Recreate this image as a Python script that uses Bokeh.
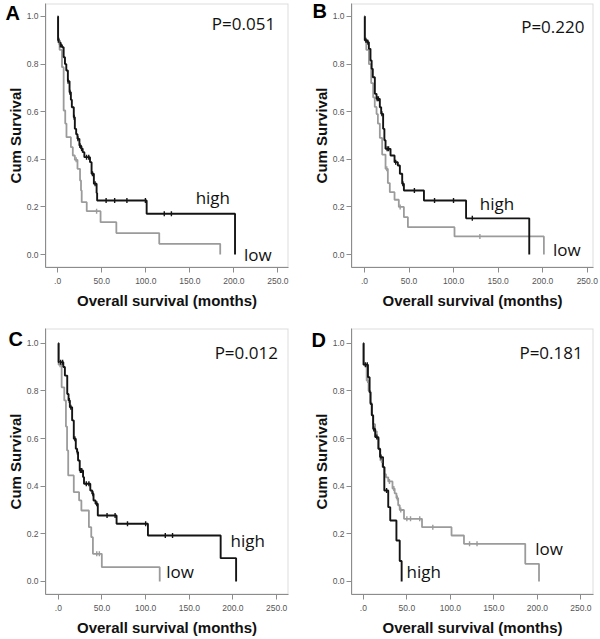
import math
from bokeh.plotting import figure
from bokeh.layouts import gridplot
from bokeh.models import FixedTicker, Label, Range1d, BoxAnnotation, Title
from bokeh.embed import file_html
from bokeh.resources import INLINE

# ---------------- axis ticks ----------------
x_ticks = [0, 50, 100, 150, 200, 250]
x_tick_labels = [".0", "50.0", "100.0", "150.0", "200.0", "250.0"]
y_ticks = [0.0, 0.2, 0.4, 0.6, 0.8, 1.0]
y_tick_labels = ["0.0", "0.2", "0.4", "0.6", "0.8", "1.0"]

x_label = "Overall survival (months)"
y_label = "Cum Survival"

panel_letters = ["A", "B", "C", "D"]
p_values = ["P=0.051", "P=0.220", "P=0.012", "P=0.181"]
group_names = ["high", "low"]

# ---------------- Panel A ----------------
a_high_t = [0, 0.5, 2.0, 3.5, 4.9, 6.8, 8.3, 9.8, 11.6, 13.5, 15.0, 16.1, 18.3, 19.5, 21.0, 22.5, 24.7, 26.5,
            28.4, 30.3, 36.7, 38.5, 41.1, 44.2, 44.8, 101.0, 201.3]
a_high_s = [1.0, 0.90, 0.89, 0.88, 0.871, 0.829, 0.80, 0.773, 0.728, 0.682, 0.65, 0.619, 0.577, 0.528, 0.505,
            0.486, 0.458, 0.445, 0.43, 0.409, 0.388, 0.339, 0.297, 0.258, 0.227, 0.171, 0.0]
a_high_cens_t = [1.2, 3.0, 11.8, 13.9, 18.7, 23.0, 25.2, 27.2, 32.8, 35.3, 39.5, 42.5, 55.0, 64.7, 78.6, 99.6,
                 121.0, 129.1]
a_high_cens_s = [0.90, 0.88, 0.728, 0.682, 0.577, 0.486, 0.458, 0.445, 0.409, 0.409, 0.339, 0.297, 0.227, 0.227,
                 0.227, 0.227, 0.171, 0.171]
a_low_t = [0, 0.3, 2.2, 4.9, 6.8, 8.6, 10.0, 15.0, 17.2, 19.5, 22.5, 25.4, 26.5, 27.3, 33.0, 48.7, 66.6, 115.3, 184.5]
a_low_s = [1.0, 0.892, 0.86, 0.787, 0.605, 0.55, 0.493, 0.451, 0.416, 0.398, 0.36, 0.311, 0.269, 0.22, 0.182,
           0.136, 0.09, 0.045, 0.0]
a_low_cens_t = [1.5, 21.0, 44.2]
a_low_cens_s = [0.892, 0.398, 0.182]

# ---------------- Panel B ----------------
b_high_t = [0, 0.3, 3.0, 4.9, 6.7, 8.0, 9.3, 11.6, 13.5, 17.2, 18.7, 20.9, 22.3, 23.6, 29.2, 33.7, 37.4, 39.7,
            42.3, 44.2, 66.7, 114.0, 184.9]
b_high_s = [1.0, 0.90, 0.892, 0.864, 0.815, 0.78, 0.745, 0.675, 0.654, 0.619, 0.591, 0.528, 0.48, 0.444, 0.416,
            0.388, 0.374, 0.339, 0.297, 0.269, 0.227, 0.152, 0.0]
b_high_cens_t = [1.5, 3.8, 14.2, 15.6, 19.5, 25.4, 27.0, 35.0, 43.0, 56.0, 78.6, 99.9, 121.0]
b_high_cens_s = [0.90, 0.892, 0.654, 0.654, 0.591, 0.444, 0.444, 0.388, 0.297, 0.269, 0.227, 0.227, 0.152]
b_low_t = [0, 0.5, 2.0, 4.9, 7.5, 9.7, 11.5, 13.5, 15.0, 17.2, 19.8, 23.6, 26.2, 28.4, 33.7, 38.5, 44.2, 48.7,
           101.0, 201.3]
b_low_s = [1.0, 0.90, 0.86, 0.80, 0.72, 0.66, 0.62, 0.59, 0.55, 0.49, 0.42, 0.36, 0.30, 0.262, 0.23, 0.20, 0.157,
           0.115, 0.076, 0.0]
b_low_cens_t = [25.0, 40.0, 129.5]
b_low_cens_s = [0.36, 0.20, 0.076]

# ---------------- Panel C ----------------
c_high_t = [0, 0.3, 5.7, 7.5, 10.2, 11.7, 13.2, 15.8, 17.7, 20.0, 21.5, 22.6, 24.5, 28.3, 29.4, 36.6, 38.8, 40.3,
            42.6, 45.2, 66.7, 102.6, 185.9, 203.6]
c_high_s = [1.0, 0.92, 0.90, 0.864, 0.787, 0.76, 0.731, 0.676, 0.599, 0.557, 0.543, 0.508, 0.466, 0.438, 0.41,
            0.382, 0.368, 0.34, 0.326, 0.277, 0.242, 0.193, 0.098, 0.0]
c_high_cens_t = [2.6, 4.9, 12.6, 14.3, 18.9, 21.8, 25.3, 26.8, 32.0, 35.0, 39.6, 44.0, 55.8, 65.0, 79.2, 100.0,
                 122.5, 130.8]
c_high_cens_s = [0.92, 0.92, 0.76, 0.731, 0.599, 0.543, 0.466, 0.466, 0.41, 0.41, 0.368, 0.326, 0.277, 0.277,
                 0.242, 0.242, 0.193, 0.193]
c_low_t = [0, 0.3, 3.8, 6.8, 8.7, 10.0, 11.3, 17.7, 23.8, 26.4, 35.0, 37.7, 39.6, 49.8, 116.1]
c_low_s = [1.0, 0.91, 0.815, 0.76, 0.65, 0.55, 0.445, 0.375, 0.34, 0.298, 0.228, 0.186, 0.116, 0.06, 0.0]
c_low_cens_t = [2.0, 44.0, 47.0]
c_low_cens_s = [0.91, 0.116, 0.116]

# ---------------- Panel D ----------------
d_high_t = [0, 0.3, 5.3, 7.2, 8.3, 9.8, 11.3, 13.6, 17.3, 19.2, 22.6, 24.1, 28.6, 30.9, 38.0, 41.8, 44.0]
d_high_s = [1.0, 0.91, 0.857, 0.794, 0.745, 0.697, 0.64, 0.606, 0.557, 0.522, 0.48, 0.382, 0.312, 0.256, 0.172,
            0.086, 0.0]
d_high_cens_t = [2.3, 4.5, 12.0, 15.5, 20.3, 26.7]
d_high_cens_s = [0.91, 0.91, 0.64, 0.606, 0.522, 0.382]
d_low_t = [0, 0.3, 3.8, 6.0, 8.0, 9.5, 11.0, 13.5, 15.5, 17.5, 19.6, 22.0, 24.5, 26.0, 28.6, 33.5, 36.0, 38.0,
           40.0, 41.8, 46.7, 67.4, 101.3, 115.6, 186.0, 201.8]
d_low_s = [1.0, 0.91, 0.843, 0.80, 0.75, 0.70, 0.66, 0.63, 0.60, 0.555, 0.508, 0.48, 0.45, 0.437, 0.42, 0.39,
           0.37, 0.35, 0.32, 0.30, 0.263, 0.228, 0.193, 0.158, 0.074, 0.0]
d_low_cens_t = [5.0, 21.0, 30.0, 35.0, 39.0, 43.0, 50.0, 54.2, 64.8, 79.8, 122.0, 130.6]
d_low_cens_s = [0.843, 0.508, 0.42, 0.39, 0.35, 0.30, 0.263, 0.263, 0.263, 0.228, 0.158, 0.158]

HIGH_COLOR = "#141414"
LOW_COLOR = "#9b9b9b"
FRAME_COLOR = "#8c8c8c"


def make_panel(idx, width, height, borders, xr, yr, letter_offset, letter_standoff, p_pos, hi_pos, lo_pos,
               high, low, high_c, low_c):
    left, right, top, bottom = borders
    p = figure(width=width, height=height, output_backend="svg", toolbar_location=None,
               x_range=Range1d(*xr), y_range=Range1d(*yr),
               min_border_left=left, min_border_right=right,
               min_border_top=top, min_border_bottom=bottom)
    p.background_fill_color = "white"
    p.border_fill_color = "white"
    p.outline_line_color = None
    p.xgrid.visible = False
    p.ygrid.visible = False

    p.xaxis.ticker = FixedTicker(ticks=x_ticks)
    p.xaxis.major_label_overrides = dict(zip(x_ticks, x_tick_labels))
    p.yaxis.ticker = FixedTicker(ticks=y_ticks)
    p.yaxis.major_label_overrides = dict(zip(y_ticks, y_tick_labels))
    p.xaxis.axis_label = x_label
    p.yaxis.axis_label = y_label
    for ax in (p.xaxis[0], p.yaxis[0]):
        ax.axis_line_color = FRAME_COLOR
        ax.major_tick_line_color = FRAME_COLOR
        ax.major_tick_out = 5
        ax.major_tick_in = 0
        ax.minor_tick_line_color = None
        ax.major_label_text_font = "Liberation Sans"
        ax.major_label_text_font_size = "8.5px"
        ax.major_label_text_color = "#555555"
        ax.axis_label_text_font = "Liberation Sans"
        ax.axis_label_text_font_style = "bold"
        ax.axis_label_text_font_size = "15px"
        ax.axis_label_text_color = "#111111"
    p.yaxis.major_label_standoff = 2
    p.yaxis.axis_label_standoff = 0
    p.xaxis.major_label_standoff = 5
    p.xaxis.axis_label_standoff = 5

    # frame box
    p.add_layout(BoxAnnotation(fill_alpha=0, line_color=FRAME_COLOR, line_width=2, level="underlay"))

    # low (gray) first, high (black) on top
    lt, ls = low
    ht, hs = high
    p.step(lt, ls, mode="after", line_color=LOW_COLOR, line_width=1.8)
    p.step(ht, hs, mode="after", line_color=HIGH_COLOR, line_width=1.9)
    lct, lcs = low_c
    hct, hcs = high_c
    p.scatter(lct, lcs, marker="dash", angle=math.pi / 2, size=5, line_color=LOW_COLOR, line_width=1.4)
    p.scatter(hct, hcs, marker="dash", angle=math.pi / 2, size=5, line_color=HIGH_COLOR, line_width=1.4)

    # panel letter as a title that overlaps the top border
    p.add_layout(Title(text=panel_letters[idx], align="left", offset=letter_offset, standoff=letter_standoff,
                       text_font="Liberation Sans", text_font_style="bold", text_font_size="20px",
                       text_color="#000000"), "above")

    p.add_layout(Label(x=p_pos[0], y=p_pos[1], text=p_values[idx], text_font="Open Sans",
                       text_font_size="17px", text_color="#111111", text_baseline="alphabetic"))
    p.add_layout(Label(x=hi_pos[0], y=hi_pos[1], text=group_names[0], text_font="Open Sans",
                       text_font_size="17px", text_color="#111111", text_baseline="alphabetic"))
    p.add_layout(Label(x=lo_pos[0], y=lo_pos[1], text=group_names[1], text_font="Open Sans",
                       text_font_size="17px", text_color="#111111", text_baseline="alphabetic"))
    return p


row1_y = (-0.0546, 1.0546)
row2_y = (-0.0546, 1.0617)

pa = make_panel(0, 300, 320, (45, 9, 3, 53), (-13.8, 262.0), row1_y, -40, -40,
                (175.0, 0.97), (156.6, 0.24), (211.5, 0.0),
                (a_high_t, a_high_s), (a_low_t, a_low_s),
                (a_high_cens_t, a_high_cens_s), (a_low_cens_t, a_low_cens_s))
pb = make_panel(1, 300, 320, (51, 7, 3, 53), (-14.6, 257.0), row1_y, -39, -36,
                (175.8, 0.96), (129.4, 0.215), (211.5, 0.022),
                (b_high_t, b_high_s), (b_low_t, b_low_s),
                (b_high_cens_t, b_high_cens_s), (b_low_cens_t, b_low_cens_s))
pc = make_panel(2, 300, 319, (42, 12, 8, 45), (-14.7, 263.6), row2_y, -37, -42,
                (179.0, 0.961), (197.2, 0.172), (123.6, 0.04),
                (c_high_t, c_high_s), (c_low_t, c_low_s),
                (c_high_cens_t, c_high_cens_s), (c_low_cens_t, c_low_cens_s))
pd = make_panel(3, 300, 319, (50, 4, 8, 45), (-13.6, 264.4), row2_y, -40, -44,
                (179.3, 0.961), (49.7, 0.04), (197.4, 0.137),
                (d_high_t, d_high_s), (d_low_t, d_low_s),
                (d_high_cens_t, d_high_cens_s), (d_low_cens_t, d_low_cens_s))

grid = gridplot([[pa, pb], [pc, pd]], toolbar_location=None)

open("out.html", "w").write(file_html(grid, INLINE))
